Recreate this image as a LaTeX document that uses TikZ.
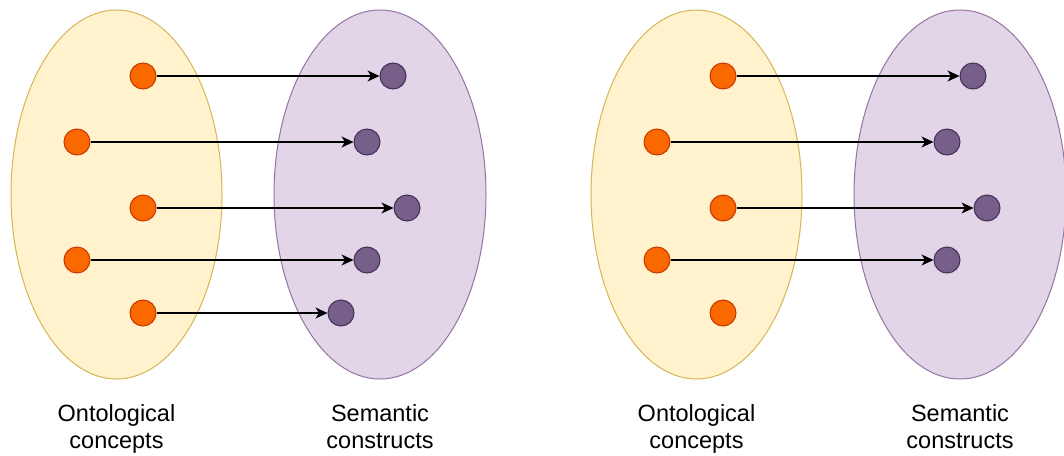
\documentclass[tikz,border=0pt]{standalone}
\usepackage{fontspec}
\setmainfont{Liberation Sans}
\usetikzlibrary{arrows.meta}
\definecolor{conceptFill}{HTML}{FFF2CC}
\definecolor{conceptLine}{HTML}{D6B656}
\definecolor{constructFill}{HTML}{E1D5E7}
\definecolor{constructLine}{HTML}{9673A6}
\definecolor{dotOrange}{HTML}{FA6800}
\definecolor{dotOrangeLine}{HTML}{C73500}
\definecolor{dotPurple}{HTML}{76608A}
\definecolor{dotPurpleLine}{HTML}{432D57}
\tikzset{
  setA/.style={draw=conceptLine, fill=conceptFill, line width=1pt},
  setB/.style={draw=constructLine, fill=constructFill, line width=1pt},
  concept/.style={circle, minimum size=26pt, inner sep=0pt, draw=dotOrangeLine, fill=dotOrange, line width=1pt},
  construct/.style={circle, minimum size=26pt, inner sep=0pt, draw=dotPurpleLine, fill=dotPurple, line width=1pt},
  mapsto/.style={-{Stealth[length=12pt,width=11pt,inset=3.5pt]}, line width=1.1pt, black},
  caption/.style={align=center, font=\fontsize{23.5}{27}\selectfont, inner sep=0pt}
}
\begin{document}
\begin{tikzpicture}[x=1pt,y=-1pt]
\useasboundingbox (0,0) rectangle (1064,455);
\fill[white] (0,0) rectangle (1064,455);
% two copies of the mapping: a complete one and one with an unmapped concept
\foreach \ox/\full in {0/1,580/0}{
  \begin{scope}[xshift=\ox pt]
    \draw[setA] (116.5,194.5) ellipse [x radius=105.5, y radius=184.5];
    \draw[setB] (380,194.5) ellipse [x radius=106, y radius=184.5];
    \node[concept] (c1) at (143,76) {};
    \node[concept] (c2) at (77,142) {};
    \node[concept] (c3) at (143,208) {};
    \node[concept] (c4) at (77,260) {};
    \node[concept] (c5) at (143,313) {};
    \node[construct] (s1) at (393,76) {};
    \node[construct] (s2) at (367,142) {};
    \node[construct] (s3) at (407,208) {};
    \node[construct] (s4) at (367,260) {};
    \draw[mapsto] (c1) -- (s1);
    \draw[mapsto] (c2) -- (s2);
    \draw[mapsto] (c3) -- (s3);
    \draw[mapsto] (c4) -- (s4);
    \ifnum\full=1
      \node[construct] (s5) at (341,313) {};
      \draw[mapsto] (c5) -- (s5);
    \fi
    \node[caption] (lc) at (116.5,429.6) {Ontological\strut\\concepts\strut};
    \node[caption] (ls) at (380,429.6) {Semantic\strut\\constructs\strut};
  \end{scope}
}
\end{tikzpicture}
\end{document}
